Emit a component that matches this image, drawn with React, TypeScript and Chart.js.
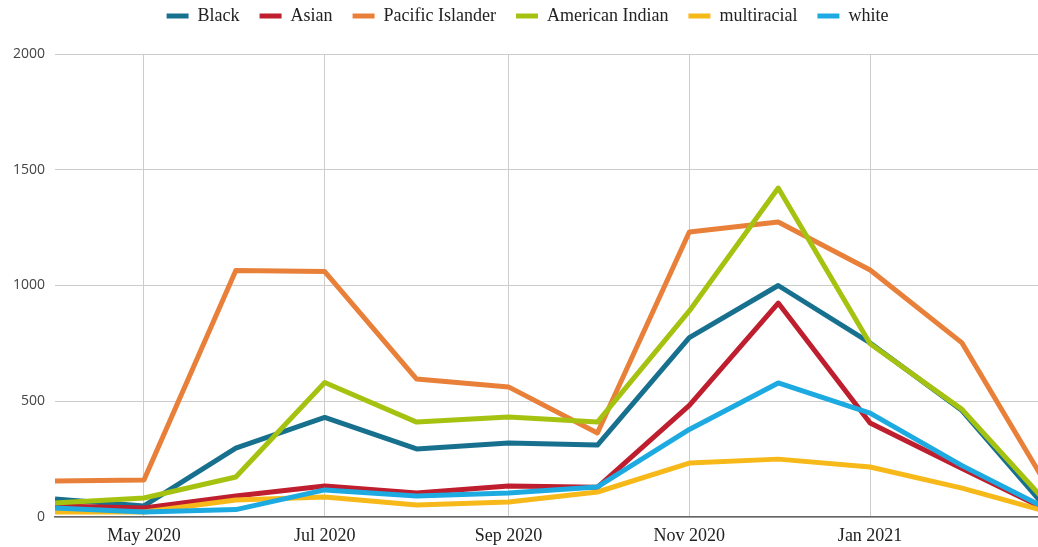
import React, { useEffect, useRef } from "react";
import { Chart, registerables } from "chart.js";

Chart.register(...registerables);

const monthDates = [
  "2020-04-01", "2020-05-01", "2020-06-01", "2020-07-01", "2020-08-01", "2020-09-01",
  "2020-10-01", "2020-11-01", "2020-12-01", "2021-01-01", "2021-02-01", "2021-03-01",
];
const tickDates = ["2020-05-01", "2020-07-01", "2020-09-01", "2020-11-01", "2021-01-01"];
const tickLabels = ["May 2020", "Jul 2020", "Sep 2020", "Nov 2020", "Jan 2021"];

const seriesNames = ["Black", "Asian", "Pacific Islander", "American Indian", "multiracial", "white"];
const black = [78, 48, 298, 430, 294, 320, 311, 775, 1000, 752, 460, 45];
const asian = [48, 39, 91, 134, 104, 134, 128, 482, 924, 406, 210, 35];
const pacificIslander = [155, 160, 1065, 1060, 596, 562, 363, 1231, 1274, 1067, 752, 150];
const americanIndian = [60, 82, 173, 581, 410, 432, 410, 890, 1421, 748, 465, 70];
const multiracial = [22, 22, 73, 86, 52, 65, 108, 233, 250, 216, 125, 25];
const white = [39, 22, 32, 117, 91, 104, 130, 378, 579, 449, 222, 40];
const seriesColors = ["#18708f", "#be1e2d", "#e8803a", "#a6c211", "#f7b919", "#1daae1"];

const yTicks = [0, 500, 1000, 1500, 2000];

const dayOf = (s: string) => {
  const [y, m, d] = s.split("-").map(Number);
  return Math.round(Date.UTC(y, m - 1, d) / 86400000);
};

const LEGEND_HEIGHT = 54;
const LEGEND_SHIFT_Y = -13;
const LEGEND_SHIFT_X = 5;

const legendSpacer = {
  id: "legendSpacer",
  afterInit(chart: any) {
    const legend = chart.legend;
    if (!legend) return;
    const origFit = legend.fit.bind(legend);
    legend.fit = function () {
      origFit();
      this.height = LEGEND_HEIGHT;
    };
    const origDraw = legend.draw.bind(legend);
    legend.draw = function () {
      const ctx = this.ctx;
      ctx.save();
      ctx.translate(LEGEND_SHIFT_X, LEGEND_SHIFT_Y);
      origDraw();
      ctx.restore();
    };
  },
};

export default function App() {
  const ref = useRef<HTMLCanvasElement | null>(null);
  useEffect(() => {
    if (!ref.current) return;
    const xs = monthDates.map(dayOf);
    const tickDays = tickDates.map(dayOf);
    const allSeries = [black, asian, pacificIslander, americanIndian, multiracial, white];
    const chart = new Chart(ref.current, {
      type: "line",
      data: {
        datasets: allSeries.map((vals, i) => ({
          label: seriesNames[i],
          data: vals.map((v, j) => ({ x: xs[j], y: v })),
          borderColor: seriesColors[i],
          backgroundColor: seriesColors[i],
          borderWidth: 5,
          pointRadius: 0,
          tension: 0,
          fill: false,
          order: allSeries.length - i,
          borderJoinStyle: "round" as const,
        })),
      },
      plugins: [legendSpacer],
      options: {
        animation: false,
        responsive: false,
        layout: { padding: { top: 0, right: 1, left: 0, bottom: 0 } },
        plugins: {
          tooltip: { enabled: false },
          legend: {
            position: "top",
            align: "center",
            labels: {
              sort: (a: any, b: any) => a.datasetIndex - b.datasetIndex,
              generateLabels: (chart: any) =>
                Chart.defaults.plugins.legend.labels
                  .generateLabels(chart)
                  .map((l: any) => ({ ...l, lineWidth: 0 })),
              boxWidth: 22,
              boxHeight: 5,
              padding: 20,
              color: "#222",
              font: { family: "'Liberation Serif', serif", size: 18 },
            },
          },
        },
        scales: {
          x: {
            type: "linear",
            min: xs[0],
            max: xs[xs.length - 1],
            afterBuildTicks: (scale: any) => {
              scale.ticks = tickDays.map((v) => ({ value: v }));
            },
            afterFit: (scale: any) => {
              scale.height = 30;
            },
            ticks: {
              autoSkip: false,
              maxRotation: 0,
              padding: 8,
              color: "#222",
              font: { family: "'Liberation Serif', serif", size: 18 },
              callback: (value: any) => {
                const idx = tickDays.indexOf(Number(value));
                return idx >= 0 ? tickLabels[idx] : "";
              },
            },
            grid: { color: "#cccccc", lineWidth: 1, drawTicks: false },
            border: { display: true, color: "#666666", width: 1.5 },
          },
          y: {
            min: yTicks[0],
            max: yTicks[yTicks.length - 1],
            afterBuildTicks: (scale: any) => {
              scale.ticks = yTicks.map((v) => ({ value: v }));
            },
            afterFit: (scale: any) => {
              scale.width = 55;
            },
            ticks: {
              padding: 10,
              color: "#444",
              font: { family: "'Open Sans', sans-serif", size: 14 },
              callback: (value: any) => String(value),
            },
            grid: { color: "#cccccc", lineWidth: 1, drawTicks: false },
            border: { display: false },
          },
        },
      },
    });
    return () => chart.destroy();
  }, []);
  return (
    <div
      style={{
        position: "fixed",
        left: 0,
        top: 0,
        width: 1038,
        height: 547,
        overflow: "hidden",
        background: "#fff",
      }}
    >
      <canvas ref={ref} width={1046} height={547} style={{ display: "block" }} />
    </div>
  );
}
